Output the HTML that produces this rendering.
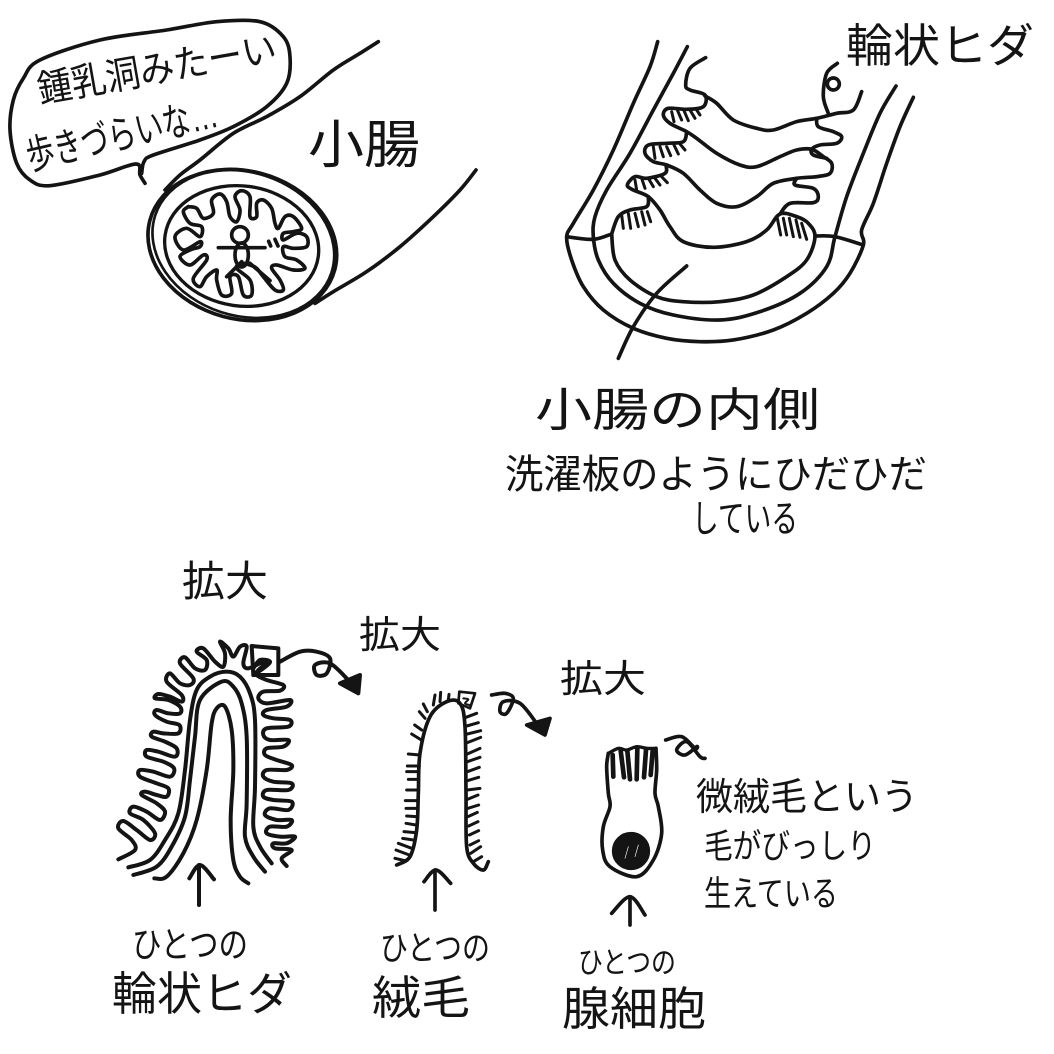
<!DOCTYPE html>
<html lang="ja"><head><meta charset="utf-8"><title>小腸</title>
<style>
html,body{margin:0;padding:0;background:#fff}
svg{display:block}
text{font-family:"Liberation Sans","Noto Sans CJK JP",sans-serif;font-weight:400;fill:#141414}
.s polyline,.s path,.s polygon,.s ellipse,.s circle,.s line{fill:none;stroke:#141414;stroke-linecap:round;stroke-linejoin:round}
</style></head><body>
<svg width="1054" height="1054" viewBox="0 0 1054 1054" xmlns="http://www.w3.org/2000/svg">
<rect width="1054" height="1054" fill="#fff"/>

<!-- top left -->
<g class="s" transform="translate(0,20) scale(.33333)" stroke-width="11">
<polyline points="435,490 420,465 408,432 300,465 150,497 90,480 50,430 30,330 40,240 70,175 120,120 300,60 500,30 650,5 780,5 850,50 870,110 860,190 800,260 700,320 600,360 460,405 432,425 425,460"/>
<polyline points="495,510 540,465 600,420 700,340 800,290 900,230 1000,150 1080,100 1135,65"/>
<polyline points="945,850 1000,815 1100,755 1200,680 1300,590 1380,510 1428,450"/>
<ellipse cx="727" cy="675" rx="287" ry="222" transform="rotate(15 727 675)" stroke-width="11"/>
<ellipse cx="730" cy="672" rx="278" ry="215" transform="rotate(18 730 672)" stroke-width="8"/>
<ellipse cx="725" cy="678" rx="232" ry="180" transform="rotate(8 725 678)" stroke-width="10"/>
<polyline points="565,560 590,565 610,595 640,580 635,540 660,522 680,545 690,590 710,605 720,570 705,530 725,512 750,530 750,590 770,590 770,550 790,540 815,565 825,610 835,625 855,590 880,590 905,625 880,635 850,640 850,660 890,640 920,650 920,680 880,685 850,680 855,710 890,720 915,745 880,750 830,735 815,745 840,780 850,810 825,810 790,770 770,745 750,735 725,730 710,745 750,780 755,825 730,825 715,770 690,770 695,820 665,825 650,780 650,750 620,770 600,800 580,775 620,720 610,705 570,735 540,710 570,690 600,680 600,665 550,690 525,650 560,625 600,650 605,620 570,610 550,575 565,560"/>
<circle cx="720" cy="645" r="25"/>
<ellipse cx="725" cy="705" rx="20" ry="36"/>
<line x1="655" y1="683" x2="795" y2="683"/>
<line x1="725" y1="725" x2="680" y2="770"/>
<line x1="750" y1="730" x2="810" y2="782"/>
<line x1="806" y1="664" x2="812" y2="678"/>
<line x1="825" y1="658" x2="834" y2="678"/>
</g>
<text transform="translate(40,103) rotate(-10)" font-size="38" textLength="242" lengthAdjust="spacingAndGlyphs">鍾乳洞みたーい</text>
<text transform="translate(30,170) rotate(-13)" font-size="40" textLength="195" lengthAdjust="spacingAndGlyphs">歩きづらいな…</text>
<text x="308" y="163" font-size="52" textLength="112" lengthAdjust="spacingAndGlyphs">小腸</text>

<!-- top right -->
<g class="s" transform="translate(540,10) scale(.33333)" stroke-width="11">
<polyline points="353,95 330,170 280,280 220,420 160,540 100,640 80,682 95,750 130,830 190,900 280,955 380,985 480,995 580,990 700,960 800,910 880,850 930,790 970,705 965,660 1000,580 1040,460 1080,350 1120,262"/>
<polyline points="442,110 400,190 340,300 270,430 200,540 165,620 160,680 175,750 220,820 300,880 400,915 540,930 660,905 780,850 860,770 885,680 920,560 970,430 1020,310 1068,228"/>
<polyline points="80,680 160,688 215,672"/>
<polyline points="825,678 885,680 970,705"/>
<polyline points="215,672 225,750 270,810 350,860 430,875 540,875 640,855 740,800 800,750 825,680 805,640 770,620 720,612 680,660 620,695 520,712 430,695 390,650 360,600 325,560 280,540 262,525 285,500 320,505 375,490 378,465"/>
<polyline points="325,560 320,590 270,600 235,620 215,672"/>
<polyline points="497,143 450,175 437,225 450,240 495,255 490,290 440,298 385,295 370,315 390,340 440,365 470,385 530,430 600,465 650,470 720,440 770,420 815,418 850,440 875,460 870,490 830,500 770,505 700,520 650,560 590,590 530,580 480,540 430,490 380,465 340,455 315,430 325,405 380,400 430,395 440,365"/>
<polyline points="495,258 530,280 580,330 650,355 700,360 770,335 830,325 890,310 940,300 965,245"/>
<polyline points="830,325 835,350 880,365 905,380 890,400 840,405 815,418 820,435 860,445"/>
<polyline points="770,505 765,525 820,535 835,560 820,578 750,580 720,612"/>
<polyline points="865,310 850,260 860,190 892,160"/>
<circle cx="880" cy="222" r="18"/>
<polyline points="440,768 350,850 280,950 235,1045"/>
<g stroke-width="9">
<line x1="395" y1="305" x2="402" y2="335"/><line x1="412" y1="300" x2="425" y2="330"/><line x1="432" y1="302" x2="445" y2="332"/><line x1="450" y1="300" x2="465" y2="325"/><line x1="470" y1="300" x2="480" y2="315"/>
<line x1="340" y1="410" x2="345" y2="445"/><line x1="360" y1="410" x2="370" y2="440"/><line x1="380" y1="410" x2="392" y2="437"/><line x1="402" y1="405" x2="415" y2="432"/><line x1="420" y1="402" x2="435" y2="420"/>
<line x1="285" y1="510" x2="290" y2="540"/><line x1="305" y1="505" x2="315" y2="535"/><line x1="325" y1="505" x2="340" y2="530"/><line x1="345" y1="505" x2="360" y2="525"/><line x1="365" y1="500" x2="382" y2="518"/>
<line x1="245" y1="615" x2="250" y2="655"/><line x1="265" y1="610" x2="272" y2="655"/><line x1="285" y1="610" x2="295" y2="650"/><line x1="305" y1="605" x2="315" y2="645"/><line x1="322" y1="605" x2="332" y2="635"/>
<line x1="712" y1="625" x2="722" y2="675"/><line x1="730" y1="625" x2="740" y2="675"/><line x1="748" y1="625" x2="760" y2="680"/><line x1="768" y1="630" x2="780" y2="682"/><line x1="785" y1="640" x2="800" y2="688"/>
</g>
</g>
<text x="846" y="62" font-size="46" textLength="188" lengthAdjust="spacingAndGlyphs">輪状ヒダ</text>
<text x="535" y="426" font-size="46" textLength="285" lengthAdjust="spacingAndGlyphs">小腸の内側</text>
<text x="505" y="488" font-size="40" textLength="422" lengthAdjust="spacingAndGlyphs">洗濯板のようにひだひだ</text>
<text x="692" y="532" font-size="38" textLength="106" lengthAdjust="spacingAndGlyphs">している</text>

<!-- villi -->
<g class="s" transform="translate(100,620) scale(.33333)" stroke-width="12">
<polyline points="55,718 105,690 95,660 55,625 70,603 110,630 150,660 165,640 130,600 90,580 100,560 140,575 180,600 195,575 170,550 125,525 135,515 170,525 200,530 205,505 170,490 120,470 120,450 160,455 210,470 222,445 190,425 140,410 140,390 175,395 225,410 230,385 195,365 155,350 160,335 190,340 235,340 238,315 200,305 165,285 170,270 205,280 240,280 240,260 205,240 165,235 175,222 210,230 245,245 245,225 200,185 210,160 240,190 270,195 280,175 240,130 255,112 285,145 315,150 320,120 290,95 310,85 345,125 370,140 375,100 360,65 385,85 400,110 420,80 440,80 430,130 445,145 490,125 505,125 475,150 470,165 500,180 550,195 540,212 490,215 475,235 500,250 570,240 560,260 500,270 490,285 520,295 570,300 565,320 500,325 490,345 510,360 565,360 550,380 500,385 495,405 530,420 575,435 560,450 500,450 490,470 520,485 575,490 565,510 500,510 490,530 520,540 575,545 565,570 510,565 495,585 530,600 575,600 560,620 510,620 500,640 540,650 585,650 560,670 520,670 525,685 575,690 545,715 560,738"/>
<polygon points="455,78 535,85 535,165 460,165"/>
<polyline points="460,165 490,145 510,125 480,120 460,145"/>
<polyline points="540,125 600,95 650,95 690,115 680,160 650,165 645,135 690,130 745,180"/>
<polygon points="780,165 720,190 775,220" style="fill:#141414"/>
<polyline points="85,742 150,720 195,660 235,580 255,450 270,300 290,210 330,170 380,155 420,170 450,220 465,300 465,500 460,620 480,680 515,730"/>
<polyline points="100,765 170,740 215,680 255,590 270,480 285,350 300,240 365,185 400,200 425,250 440,350 440,550 435,650 460,710 495,755"/>
<polyline points="163,775 200,770 250,700 290,600 320,450 335,310 350,265 375,260 395,330 400,450 392,600 400,720 420,770 445,790"/>
<line x1="297" y1="855" x2="297" y2="735"/>
<polyline points="268,775 300,735 342,778"/>
</g>

<!-- single villus + cell -->
<g class="s" transform="translate(380,660) scale(.33333)" stroke-width="11">
<polyline points="50,615 90,590 110,510 115,400 120,280 150,170 200,125 240,130 255,200 258,400 260,560 280,610 310,630 325,605"/>
<polygon points="238,95 285,100 270,145 235,130" stroke-width="8"/>
<polyline points="250,115 265,118 255,130 268,135" stroke-width="6"/>
<g stroke-width="9">
<line x1="160" y1="135" x2="165" y2="105"/><line x1="180" y1="125" x2="182" y2="97"/><line x1="205" y1="120" x2="207" y2="103"/><line x1="142" y1="155" x2="130" y2="132"/><line x1="135" y1="175" x2="118" y2="155"/><line x1="125" y1="210" x2="104" y2="195"/><line x1="124" y1="240" x2="95" y2="222"/><line x1="120" y1="285" x2="85" y2="282"/><line x1="118" y1="318" x2="82" y2="318"/><line x1="115" y1="335" x2="80" y2="335"/><line x1="115" y1="358" x2="85" y2="358"/><line x1="115" y1="390" x2="80" y2="390"/><line x1="112" y1="422" x2="76" y2="422"/><line x1="110" y1="445" x2="78" y2="445"/><line x1="108" y1="470" x2="80" y2="468"/><line x1="108" y1="495" x2="78" y2="490"/><line x1="105" y1="518" x2="72" y2="515"/><line x1="100" y1="540" x2="68" y2="535"/><line x1="95" y1="565" x2="55" y2="550"/><line x1="88" y1="585" x2="48" y2="570"/><line x1="78" y1="603" x2="45" y2="595"/>
<line x1="258" y1="172" x2="290" y2="160"/><line x1="260" y1="198" x2="295" y2="188"/><line x1="262" y1="222" x2="302" y2="212"/><line x1="262" y1="248" x2="302" y2="232"/><line x1="262" y1="282" x2="300" y2="265"/><line x1="262" y1="305" x2="300" y2="292"/><line x1="262" y1="335" x2="298" y2="322"/><line x1="262" y1="362" x2="296" y2="352"/><line x1="262" y1="390" x2="300" y2="385"/><line x1="262" y1="418" x2="294" y2="405"/><line x1="264" y1="445" x2="296" y2="435"/><line x1="264" y1="470" x2="292" y2="457"/><line x1="266" y1="498" x2="294" y2="485"/><line x1="268" y1="525" x2="296" y2="512"/><line x1="270" y1="555" x2="296" y2="542"/><line x1="272" y1="580" x2="302" y2="560"/><line x1="280" y1="605" x2="305" y2="590"/>
</g>
<polyline points="335,105 375,100 400,115 380,160 360,155 370,125 420,130 470,190"/>
<polygon points="510,175 440,195 495,225" style="fill:#141414"/>
<polyline points="685,280 680,320 685,400 690,440 670,500 668,570 690,620 770,650 820,600 845,520 835,440 825,400 830,330 828,265"/>
<polyline points="685,280 715,265 740,270 770,260 800,265 828,265" stroke-width="10"/>
<g stroke-width="14">
<line x1="698" y1="285" x2="700" y2="350"/><line x1="722" y1="272" x2="732" y2="352"/><line x1="742" y1="272" x2="750" y2="358"/><line x1="772" y1="266" x2="770" y2="358"/><line x1="798" y1="270" x2="792" y2="352"/><line x1="818" y1="272" x2="812" y2="345"/>
</g>
<circle cx="753" cy="573" r="52" style="fill:#141414"/>
<line x1="745" y1="560" x2="735" y2="595" style="stroke:#fff" stroke-width="2"/>
<line x1="775" y1="555" x2="765" y2="590" style="stroke:#fff" stroke-width="2"/>
<polyline points="857,240 905,230 945,265 950,260 915,285 890,270 920,245 960,290 975,295"/>
<line x1="165" y1="750" x2="165" y2="630"/>
<polyline points="132,665 168,630 212,670"/>
<line x1="750" y1="795" x2="750" y2="710"/>
<polyline points="695,760 750,710 795,765"/>
</g>

<text x="182" y="596" font-size="42" textLength="86" lengthAdjust="spacingAndGlyphs">拡大</text>
<text x="359" y="648" font-size="38" textLength="82" lengthAdjust="spacingAndGlyphs">拡大</text>
<text x="560" y="692" font-size="38" textLength="86" lengthAdjust="spacingAndGlyphs">拡大</text>
<text x="696" y="810" font-size="38" textLength="222" lengthAdjust="spacingAndGlyphs">微絨毛という</text>
<text x="704" y="858" font-size="34" textLength="172" lengthAdjust="spacingAndGlyphs">毛がびっしり</text>
<text x="704" y="906" font-size="35" textLength="134" lengthAdjust="spacingAndGlyphs">生えている</text>
<text x="132" y="957" font-size="36" textLength="116" lengthAdjust="spacingAndGlyphs">ひとつの</text>
<text x="112" y="1010" font-size="46" textLength="180" lengthAdjust="spacingAndGlyphs">輪状ヒダ</text>
<text x="380" y="960" font-size="34" textLength="110" lengthAdjust="spacingAndGlyphs">ひとつの</text>
<text x="372" y="1014" font-size="46" textLength="98" lengthAdjust="spacingAndGlyphs">絨毛</text>
<text x="578" y="973" font-size="30" textLength="98" lengthAdjust="spacingAndGlyphs">ひとつの</text>
<text x="562" y="1025" font-size="46" textLength="144" lengthAdjust="spacingAndGlyphs">腺細胞</text>
</svg>
<script>
document.querySelectorAll('.s polyline').forEach(function(el){
  var n=el.getAttribute('points').trim().split(/\s+/).map(function(p){return p.split(',').map(Number)});
  var d='M'+n[0][0]+' '+n[0][1];
  for(var i=0;i<n.length-1;i++){
    var a=n[Math.max(i-1,0)],b=n[i],c=n[i+1],e=n[Math.min(i+2,n.length-1)];
    d+=' C'+(b[0]+(c[0]-a[0])/6)+' '+(b[1]+(c[1]-a[1])/6)+' '+(c[0]-(e[0]-b[0])/6)+' '+(c[1]-(e[1]-b[1])/6)+' '+c[0]+' '+c[1];
  }
  var p=document.createElementNS('http://www.w3.org/2000/svg','path');
  p.setAttribute('d',d);
  var sw=el.getAttribute('stroke-width'); if(sw)p.setAttribute('stroke-width',sw);
  el.parentNode.replaceChild(p,el);
});
</script>
</body></html>
